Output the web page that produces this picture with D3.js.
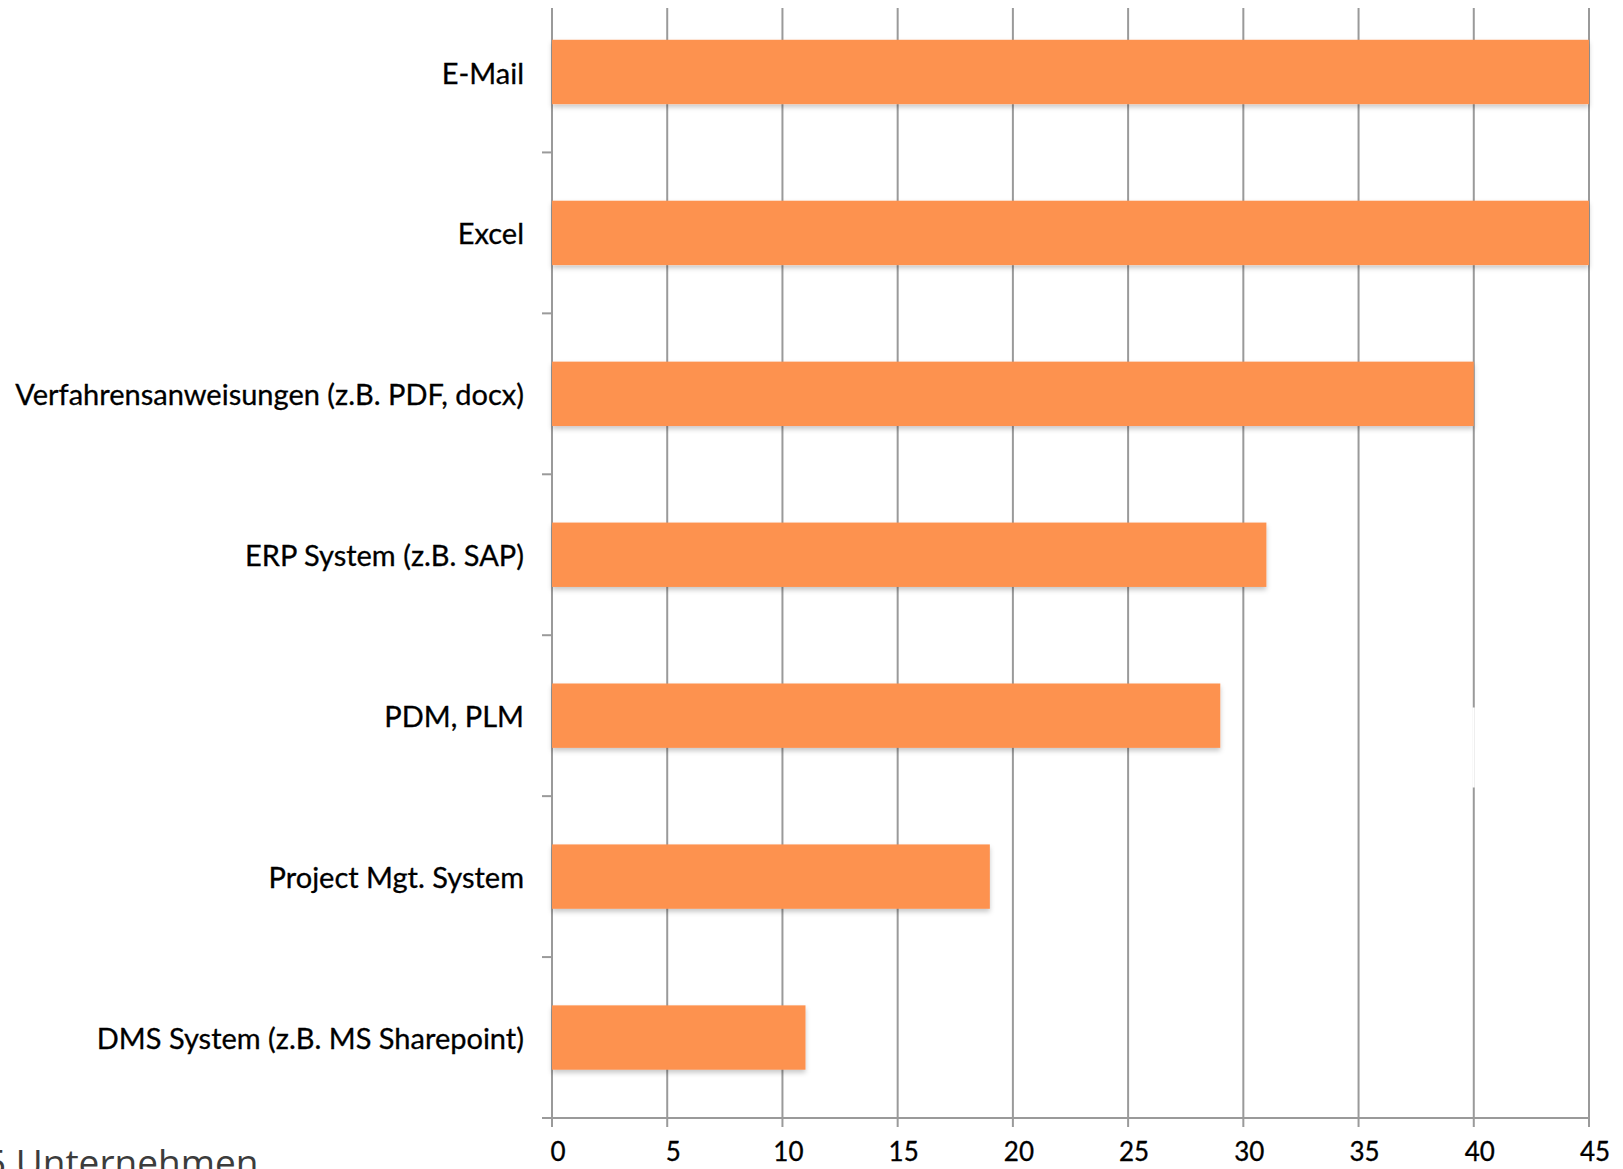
<!DOCTYPE html>
<html>
<head>
<meta charset="utf-8">
<script src="https://cdn.jsdelivr.net/npm/d3@7"></script>
<style>
  body { margin: 0; background: #fff; }
  svg { display: block; }
</style>
</head>
<body>
<svg id="chart" width="1623" height="1169"></svg>
<script>
// data
const categories = [
  'E-Mail',
  'Excel',
  'Verfahrensanweisungen (z.B. PDF, docx)',
  'ERP System (z.B. SAP)',
  'PDM, PLM',
  'Project Mgt. System',
  'DMS System (z.B. MS Sharepoint)'
]
const values = [45, 45, 40, 31, 29, 19, 11]
const x_ticks = [0, 5, 10, 15, 20, 25, 30, 35, 40, 45]
const footnote = '5 Unternehmen'

const svg = d3.select('#chart')

const x = d3.scaleLinear().domain([0, 45]).range([552, 1589])
const y = d3.scaleBand()
  .domain(categories)
  .range([-8.5, 1118])
  .paddingInner(0.6)
  .paddingOuter(0.3)

const grid_top = 8
const axis_y = 1118

const defs = svg.append('defs')
const shadow = defs.append('filter')
  .attr('id', 'shadow')
  .attr('x', '-5%').attr('y', '-20%')
  .attr('width', '110%').attr('height', '150%')
shadow.append('feDropShadow')
  .attr('dx', 0).attr('dy', 3)
  .attr('stdDeviation', 2.5)
  .attr('flood-color', '#000')
  .attr('flood-opacity', 0.22)

// vertical gridlines
svg.append('g')
  .selectAll('line')
  .data(x_ticks)
  .enter()
    .append('line')
    .attr('x1', d => x(d))
    .attr('x2', d => x(d))
    .attr('y1', grid_top)
    .attr('y2', axis_y + 9)
    .attr('stroke', '#9a9a9a')
    .attr('stroke-width', 2)

// x axis line
svg.append('line')
  .attr('x1', 542)
  .attr('x2', x(45))
  .attr('y1', axis_y)
  .attr('y2', axis_y)
  .attr('stroke', '#9a9a9a')
  .attr('stroke-width', 2)

// y axis ticks between categories
const boundaries = categories.slice(1).map(c => y(c) - y.step() * y.paddingInner() / 2)
svg.append('g')
  .selectAll('line')
  .data(boundaries)
  .enter()
    .append('line')
    .attr('x1', 542)
    .attr('x2', x(0))
    .attr('y1', d => d)
    .attr('y2', d => d)
    .attr('stroke', '#9a9a9a')
    .attr('stroke-width', 2)

// bars
svg.append('g')
  .selectAll('rect')
  .data(categories)
  .enter()
    .append('rect')
    .attr('x', x(0))
    .attr('y', c => y(c))
    .attr('width', (c, i) => x(values[i]) - x(0))
    .attr('height', y.bandwidth())
    .attr('fill', '#fd9250')
    .attr('filter', 'url(#shadow)')

// small white gap on the 40 gridline beside PDM, PLM
svg.append('rect')
  .attr('x', x(40) - 1.5)
  .attr('y', y('PDM, PLM') + 24)
  .attr('width', 2.5)
  .attr('height', 80)
  .attr('fill', '#fff')

// category labels
svg.append('g')
  .selectAll('text')
  .data(categories)
  .enter()
    .append('text')
    .attr('x', x(0) - 28)
    .attr('y', c => y(c) + y.bandwidth() / 2)
    .attr('dy', '0.4em')
    .attr('text-anchor', 'end')
    .attr('font-family', 'Lato, "Open Sans", sans-serif')
    .attr('font-size', 29)
    .attr('fill', '#000')
    .attr('stroke', '#000')
    .attr('stroke-width', 0.3)
    .text(c => c)

// x tick labels
svg.append('g')
  .selectAll('text')
  .data(x_ticks)
  .enter()
    .append('text')
    .attr('x', d => x(d) + 6)
    .attr('y', 1161)
    .attr('text-anchor', 'middle')
    .attr('font-family', 'Lato, "Open Sans", sans-serif')
    .attr('font-size', 26)
    .attr('fill', '#000')
    .attr('stroke', '#000')
    .attr('stroke-width', 0.3)
    .text(d => d)

// cut-off footnote in the lower left corner
svg.append('text')
  .attr('x', -15)
  .attr('y', 1176)
  .attr('font-family', '"Open Sans", sans-serif')
  .attr('font-size', 37)
  .attr('fill', '#3c3c3c')
  .text(footnote)
</script>
</body>
</html>
